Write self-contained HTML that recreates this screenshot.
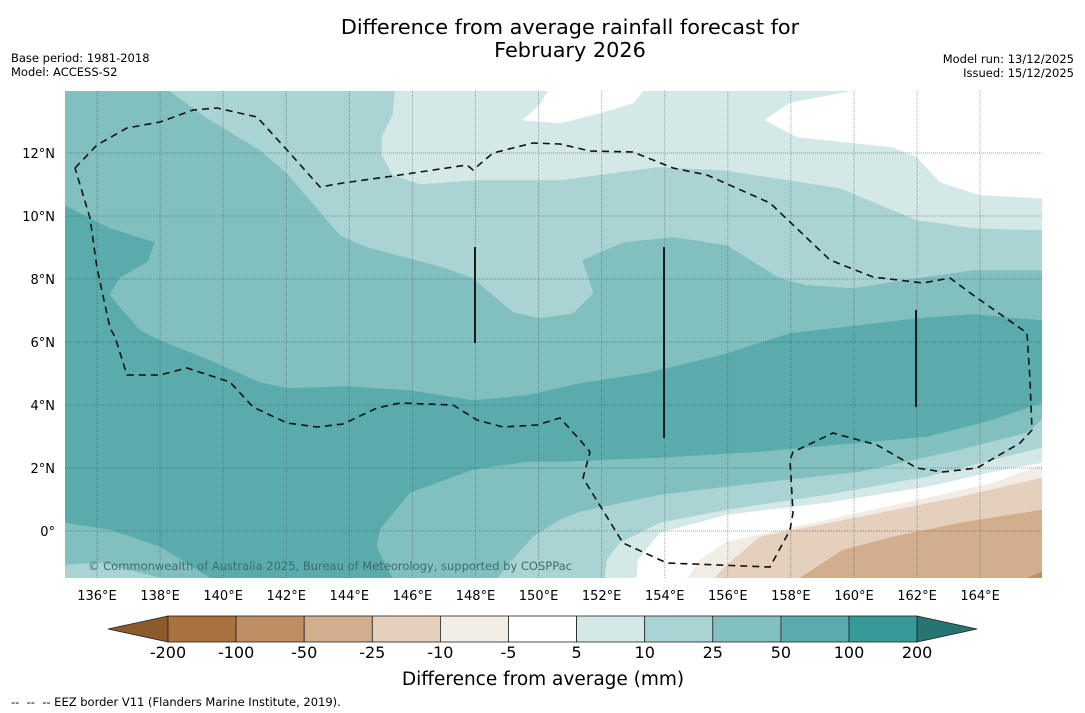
<!DOCTYPE html>
<html><head><meta charset="utf-8"><style>
html,body{margin:0;padding:0;background:#fff;}
svg{display:block;font-family:"DejaVu Sans","Liberation Sans",sans-serif;}
</style></head><body>
<svg id="chart" width="1085" height="713" viewBox="0 0 1085 713" xmlns="http://www.w3.org/2000/svg">
<text x="570" y="34" font-size="20.8" text-anchor="middle">Difference from average rainfall forecast for</text>
<text x="570" y="57" font-size="20.8" text-anchor="middle">February 2026</text>
<text x="11" y="62" font-size="11.5">Base period: 1981-2018</text>
<text x="11" y="76" font-size="11.5">Model: ACCESS-S2</text>
<text x="1074" y="63" font-size="11.5" text-anchor="end">Model run: 13/12/2025</text>
<text x="1074" y="77" font-size="11.5" text-anchor="end">Issued: 15/12/2025</text>
<defs><clipPath id="pc"><rect x="65" y="91" width="977" height="487"/></clipPath></defs>
<g id="map" clip-path="url(#pc)"></g>
<g id="axes"></g>
<g id="cbar"></g>
<text x="543" y="685" font-size="18.5" text-anchor="middle">Difference from average (mm)</text>
<text x="11" y="706" font-size="11.5">--&#160;&#160;--&#160;&#160;-- EEZ border V11 (Flanders Marine Institute, 2019).</text>
</svg>
<script>
const NS="http://www.w3.org/2000/svg";
const lonTicks=[136,138,140,142,144,146,148,150,152,154,156,158,160,162,164];
const latTicks=[0,2,4,6,8,10,12];
const cbLevels=["-200","-100","-50","-25","-10","-5","5","10","25","50","100","200"];
const cbColors=["#a8713e","#be8f65","#d2ae8d","#e4d0bd","#f2ece7","#ffffff","#d4e8e7","#a9d4d3","#82c0bf","#5aabab","#359a98"];
const cbLow="#8c5a2c", cbHigh="#267572";
function xLon(l){return 97+(l-136)*31.54;}
function yLat(l){return 531-l*31.5;}
function mk(t,a,p){const e=document.createElementNS(NS,t);for(const k in a)e.setAttribute(k,a[k]);p.appendChild(e);return e;}
const map=document.getElementById('map');
const regions=[
 ["#5aabab","65,91 1042,91 1042,578 65,578"],
 ["#82c0bf","65,91 1042,91 1042,320 973,314 917,318 790,333 720,355 650,372 580,383 527,395 473,400 410,390 347,386 287,388 260,382 203,357 160,340 140,330 110,295 120,278 148,262 155,242 110,228 65,205"],
 ["#a9d4d3","170,91 1042,91 1042,270 973,270 917,278 853,288 807,285 780,278 727,245 673,237 623,242 582,260 593,293 573,313 540,318 513,312 473,278 443,267 367,247 340,235 287,173 260,150 207,118"],
 ["#d4e8e7","395,91 1042,91 1042,230 973,228 917,220 840,188 723,170 657,167 560,180 477,180 420,184 393,175 382,155 382,137 393,115"],
 ["#ffffff","548,91 540,105 523,120 560,123 600,113 633,103 643,91"],
 ["#ffffff","853,91 790,103 765,120 797,137 893,147 917,157 940,182 980,195 1042,198 1042,91"],
 ["#82c0bf","393,578 377,547 380,530 410,493 473,470 527,462 560,462 660,458 760,452 860,443 927,437 993,420 1042,403 1042,578"],
 ["#a9d4d3","498,578 510,563 533,537 560,520 580,512 660,495 760,483 860,472 960,450 1027,433 1042,420 1042,578"],
 ["#d4e8e7","605,578 607,560 620,543 660,523 727,510 827,495 927,477 993,460 1042,448 1042,578"],
 ["#ffffff","637,578 638,560 660,533 727,515 827,503 927,487 993,472 1042,463 1042,578"],
 ["#f2ece7","688,578 700,560 727,542 827,520 927,498 993,483 1042,465 1042,578"],
 ["#e4d0bd","715,578 727,565 760,537 860,517 960,497 1042,478 1042,578"],
 ["#d2ae8d","800,578 843,550 893,537 960,523 1042,510 1042,578"],
 ["#be8f65","1027,578 1042,572 1042,578"],
 ["#82c0bf","65,523 110,530 160,547 210,578 65,578"],
 ["#a9d4d3","65,565 100,563 160,578 65,578"]
];
regions.forEach((r,i)=>{
 const p=mk('polygon',{points:r[1],fill:r[0],stroke:r[0],'stroke-width':0.6},map);
 
 
});
lonTicks.forEach(l=>{const g=mk('line',{x1:xLon(l),x2:xLon(l),y1:91,y2:578,stroke:'#3c5050','stroke-opacity':0.45,'stroke-width':1,'stroke-dasharray':'1,1'},map);
 
 });
latTicks.forEach(l=>{const g=mk('line',{x1:65,x2:1042,y1:yLat(l),y2:yLat(l),stroke:'#3c5050','stroke-opacity':0.5,'stroke-width':1,'stroke-dasharray':'1,1'},map);
 
 });
const eez=mk('polyline',{points:"75,168 97,145 127,128 160,122 193,110 217,108 257,117 287,150 320,187 343,183 393,176 467,165 473,170 493,153 533,143 560,144 590,151 633,152 673,168 707,175 770,203 830,260 873,277 923,283 950,278 973,295 1027,333 1030,380 1032,430 1020,443 977,468 943,472 917,468 877,445 833,433 793,452 790,460 793,513 790,530 770,567 667,563 623,543 583,478 590,452 580,440 560,418 537,425 503,427 477,420 453,405 400,403 377,408 343,424 317,427 287,423 253,407 230,382 187,368 160,375 127,375 115,337 110,328 97,268 90,218 75,168",fill:'none',stroke:'#111','stroke-width':1.6,'stroke-dasharray':'7,5'},map);


[[475,247,343],[664,247,438],[916,310,407]].forEach(s=>{const l=mk('line',{x1:s[0],x2:s[0],y1:s[1],y2:s[2],stroke:'#1a1a1a','stroke-width':2},map);
 
 });
const cp=mk('text',{x:88,y:570,'font-size':11.5,fill:'#3d6d6c',textLength:484},map);cp.textContent="© Commonwealth of Australia 2025, Bureau of Meteorology, supported by COSPPac";


const ax=document.getElementById('axes');
lonTicks.forEach(l=>{const t=mk('text',{x:xLon(l),y:600,'font-size':13,'text-anchor':'middle'},ax);t.textContent=l+"°E";
 
 });
latTicks.forEach(l=>{const t=mk('text',{x:55,y:yLat(l)+5,'font-size':13,'text-anchor':'end'},ax);t.textContent=l===0?"0°":l+"°N";
 
 });
const cb=document.getElementById('cbar');
const x0=168,w=68.1,y0=616,h=26;
const lt=mk('polygon',{points:`108,${y0+h/2} ${x0},${y0} ${x0},${y0+h}`,fill:cbLow,stroke:'#222','stroke-width':0.8},cb);


cbColors.forEach((c,i)=>{const r=mk('rect',{x:x0+i*w,y:y0,width:w,height:h,fill:c,stroke:'#222','stroke-width':0.8},cb);
 
 });
const xe=x0+cbColors.length*w;
const rt=mk('polygon',{points:`${xe},${y0} 977,${y0+h/2} ${xe},${y0+h}`,fill:cbHigh,stroke:'#222','stroke-width':0.8},cb);


cbLevels.forEach((v,i)=>{const t=mk('text',{x:x0+i*w,y:658,'font-size':16,'text-anchor':'middle'},cb);t.textContent=v;
 
 });
</script>
</body></html>
